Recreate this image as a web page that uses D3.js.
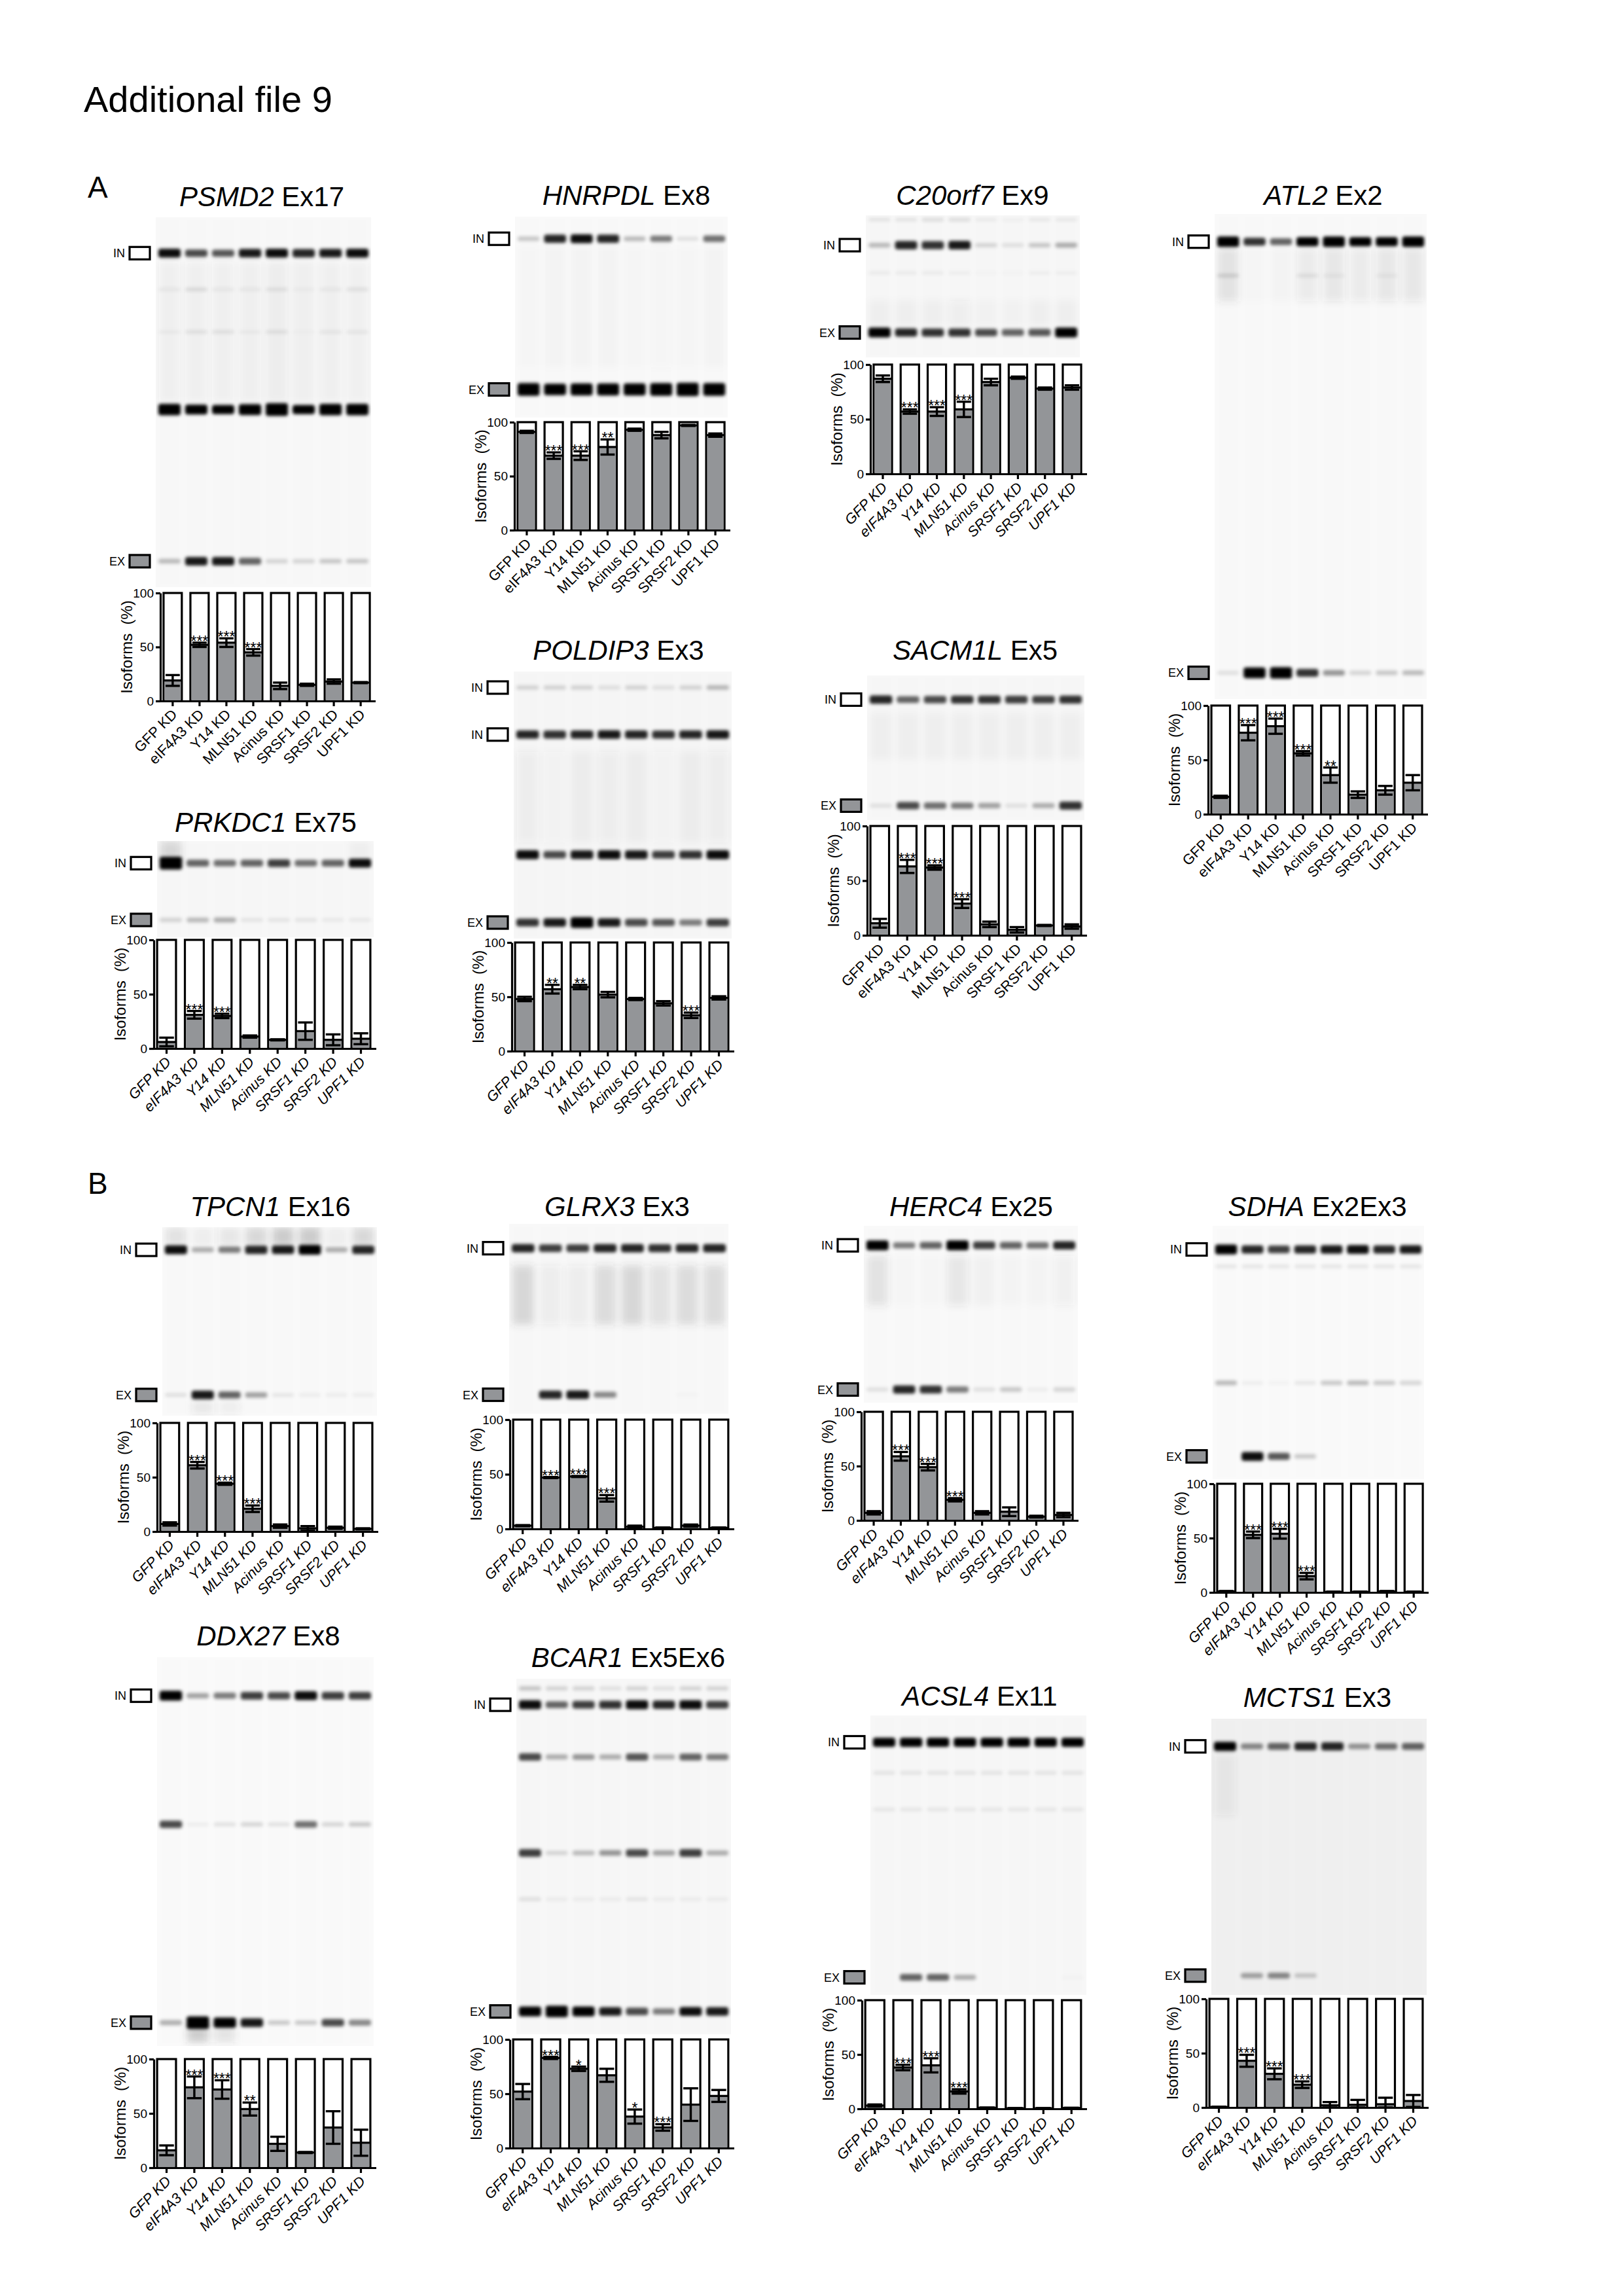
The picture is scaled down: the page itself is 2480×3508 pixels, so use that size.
<!DOCTYPE html>
<html><head><meta charset="utf-8">
<script src="https://cdn.jsdelivr.net/npm/d3@7"></script>
<style>
html,body{margin:0;padding:0;background:#fff;}
svg{display:block;font-family:"Liberation Sans",Arial,Helvetica,sans-serif;}
</style></head><body>
<svg id="fig" width="2480" height="3508"></svg>
<script>
// ---------------- DATA ----------------
const lanes = ["GFP KD","eIF4A3 KD","Y14 KD","MLN51 KD","Acinus KD","SRSF1 KD","SRSF2 KD","UPF1 KD"];
const yTicks = [0, 50, 100];

// Exon-included isoform percentage (mean, error, significance)
const psmd2Mean = [19,52,54,45,14,15,18,17];
const psmd2Err  = [5,2,4,3,3,1,2,0.5];
const psmd2Sig  = ["","***","***","***","","","",""];
const hnrpdlMean = [91,69,69,77,93,88,97,88];
const hnrpdlErr  = [1,3,4,7,1,3,0.5,1.5];
const hnrpdlSig  = ["","***","***","**","","","",""];
const c20orf7Mean = [87,57,57,59,84,88,78,79];
const c20orf7Err  = [3,2,4,7,3,1,1,2];
const c20orf7Sig  = ["","***","***","***","","","",""];
const atl2Mean = [16,75,81,56,36,18,22,29];
const atl2Err  = [1,7,7,2,7,3,4,7];
const atl2Sig  = ["","***","***","***","**","","",""];
const prkdc1Mean = [6,31,30,11,8,16,8,9];
const prkdc1Err  = [4,3.5,2,1,0.5,8,5,5];
const prkdc1Sig  = ["","***","***","","","","",""];
const poldip3Mean = [48,57,59,52,48,44,33,49];
const poldip3Err  = [2,4,2,2.5,1,2,2.5,1.5];
const poldip3Sig  = ["","**","**","","","","***",""];
const sacm1lMean = [11,63,62,29,10,5,9,8];
const sacm1lErr  = [4,6,2,4,2.5,2.5,0.5,2];
const sacm1lSig  = ["","***","***","***","","","",""];
const tpcn1Mean = [7,61,44,21,5,3,3.5,2.5];
const tpcn1Err  = [1.5,3,1,3,1.5,2,1,0.5];
const tpcn1Sig  = ["","***","***","***","","","",""];
const glrx3Mean = [3,47,48,28,2,1,3,1];
const glrx3Err  = [0.5,0.5,0.5,3,1,0.3,1,0.3];
const glrx3Sig  = ["","***","***","***","","","",""];
const herc4Mean = [7,59,49,19,7,8,3.5,5];
const herc4Err  = [1.5,4,3,1.5,1.5,4,0.8,2];
const herc4Sig  = ["","***","***","***","","","",""];
const sdhaMean = [1,53,54,15,0.5,0.5,1,0.5];
const sdhaErr  = [0.3,3,4.5,3,0.2,0.2,0.3,0.2];
const sdhaSig  = ["","***","***","***","","","",""];
const ddx27Mean = [16,74,72,54,22,14,37,23];
const ddx27Err  = [4.5,10,8.5,6,6.5,0.5,15,12];
const ddx27Sig  = ["","***","***","**","","","",""];
const bcar1Mean = [52,83,73,67,29,19,40,48];
const bcar1Err  = [7,1,2,6,6.5,3,15,5.5];
const bcar1Sig  = ["","***","*","","*","***","",""];
const acsl4Mean = [3,38,40,16,1,0.5,0.5,0.8];
const acsl4Err  = [1,2.5,6.5,2,0.2,0.2,0.2,0.2];
const acsl4Sig  = ["","***","***","***","","","",""];
const mcts1Mean = [0.5,43,31,21,2,2.5,3,6];
const mcts1Err  = [0.2,5.5,5,3,3,4.5,6,5.5];
const mcts1Sig  = ["","***","***","***","","","",""];

// Gel bands: [relative migration 0..1, per-lane signal]
const psmd2Bands = [[0.097,[0.95,0.7,0.65,0.9,0.95,0.85,0.9,0.95]],[0.195,[0.05,0.1,0.05,0.05,0.08,0.03,0.05,0.08]],[0.31,[0.04,0.08,0.08,0.04,0.08,0.02,0.06,0.06]],[0.52,[1.4,1.1,1.0,1.3,1.6,1.0,1.4,1.4]],[0.93,[0.25,0.9,0.9,0.6,0.15,0.15,0.2,0.2]]];
const psmd2Smears = [[0.12,0.5,[0.08,0.08,0.08,0.08,0.1,0.05,0.08,0.07]]];
const hnrpdlBands = [[0.11,[0.2,0.85,0.95,0.85,0.25,0.5,0.1,0.55]],[0.86,[1.6,1.4,1.5,1.5,1.5,1.6,1.7,1.6]]];
const hnrpdlSmears = [[0.15,0.75,[0.02,0.03,0.03,0.03,0.02,0.04,0.02,0.03]]];
const c20orf7Bands = [[0.03,[0.08,0.08,0.1,0.1,0.05,0.03,0.06,0.06]],[0.21,[0.25,0.85,0.8,0.9,0.15,0.1,0.2,0.3]],[0.405,[0.05,0.05,0.05,0.04,0.02,0.02,0.04,0.04]],[0.825,[1.1,0.85,0.8,0.8,0.7,0.6,0.65,1.1]]];
const c20orf7Smears = [[0.6,0.78,[0.05,0.05,0.05,0.08,0.03,0.03,0.05,0.05]]];
const atl2Bands = [[0.057,[1.2,0.8,0.6,1.0,1.2,1.0,1.0,1.2]],[0.127,[0.12,0,0,0.08,0.05,0,0.05,0]],[0.946,[0.1,1.3,1.4,0.8,0.4,0.15,0.2,0.25]]];
const atl2Smears = [[0.07,0.18,[0.2,0.02,0.03,0.12,0.15,0.12,0.15,0.15]]];
const prkdc1Bands = [[0.23,[1.6,0.6,0.55,0.6,0.75,0.55,0.6,0.95]],[0.82,[0.15,0.25,0.3,0.08,0.08,0.08,0.06,0.06]]];
const prkdc1Smears = [[0.0,0.2,[0.3,0,0,0,0,0,0,0.05]]];
const poldip3Bands = [[0.06,[0.15,0.15,0.15,0.1,0.15,0.1,0.15,0.25]],[0.236,[0.85,0.8,0.85,0.9,0.85,0.8,0.85,0.9]],[0.686,[0.95,0.7,0.9,0.95,0.9,0.75,0.8,0.95]],[0.94,[0.8,0.9,1.3,0.9,0.7,0.65,0.5,0.75]]];
const poldip3Smears = [[0.3,0.64,[0.08,0.04,0.06,0.08,0.06,0.04,0.06,0.08]]];
const sacm1lBands = [[0.167,[0.85,0.6,0.7,0.8,0.8,0.75,0.75,0.8]],[0.9,[0.1,0.7,0.55,0.5,0.35,0.1,0.3,0.8]]];
const sacm1lSmears = [[0.26,0.58,[0.05,0.05,0.05,0.05,0.05,0.05,0.05,0.05]]];
const tpcn1Bands = [[0.12,[0.95,0.3,0.5,0.85,0.9,1.1,0.3,0.85]],[0.89,[0.1,0.9,0.6,0.35,0.08,0.05,0.05,0.05]]];
const tpcn1Smears = [[0.0,0.1,[0.2,0.1,0.15,0.3,0.4,0.4,0.1,0.3]],[0.92,0.99,[0,0.15,0.1,0,0,0,0,0]]];
const glrx3Bands = [[0.128,[0.85,0.75,0.75,0.85,0.85,0.8,0.85,0.85]],[0.9,[0,0.85,0.9,0.45,0,0,0.02,0]]];
const glrx3Smears = [[0.22,0.53,[0.3,0.1,0.1,0.25,0.3,0.2,0.25,0.25]]];
const herc4Bands = [[0.11,[1.1,0.5,0.6,1.1,0.75,0.6,0.55,0.85]],[0.926,[0.1,0.85,0.8,0.5,0.1,0.2,0.05,0.15]]];
const herc4Smears = [[0.17,0.45,[0.2,0.02,0.02,0.15,0.05,0.03,0.03,0.08]]];
const sdhaBands = [[0.093,[1.1,0.85,0.75,0.85,0.9,0.95,0.85,0.9]],[0.16,[0.08,0.08,0.08,0.08,0.08,0.08,0.08,0.08]],[0.62,[0.25,0.05,0.03,0.08,0.2,0.25,0.2,0.15]],[0.91,[0,0.95,0.65,0.2,0,0,0,0]]];
const sdhaSmears = [];
const ddx27Bands = [[0.099,[1.1,0.35,0.5,0.75,0.7,0.95,0.75,0.75]],[0.43,[0.7,0.05,0.1,0.15,0.1,0.55,0.15,0.2]],[0.94,[0.3,1.6,1.2,0.9,0.2,0.2,0.7,0.45]]];
const ddx27Smears = [[0.95,0.99,[0,0.4,0.2,0,0,0,0,0]]];
const bcar1Bands = [[0.027,[0.2,0.15,0.15,0.1,0.15,0.1,0.15,0.15]],[0.073,[0.95,0.6,0.75,0.8,0.95,0.85,0.95,0.75]],[0.22,[0.7,0.3,0.4,0.3,0.65,0.3,0.6,0.5]],[0.49,[0.75,0.15,0.25,0.4,0.7,0.35,0.75,0.3]],[0.62,[0.1,0.05,0.05,0.05,0.08,0.05,0.05,0.05]],[0.936,[1.1,1.4,1.1,0.9,0.7,0.5,0.95,0.9]]];
const bcar1Smears = [];
const acsl4Bands = [[0.096,[1,1,1,1,1,1,1,1]],[0.205,[0.08,0.08,0.08,0.08,0.08,0.08,0.08,0.08]],[0.336,[0.07,0.07,0.07,0.07,0.07,0.07,0.07,0.07]],[0.937,[0,0.6,0.6,0.3,0,0,0,0.02]]];
const acsl4Smears = [];
const mcts1Bands = [[0.1,[1.0,0.45,0.6,0.85,0.85,0.4,0.55,0.6]],[0.93,[0,0.35,0.45,0.2,0,0,0,0]]];
const mcts1Smears = [[0.13,0.35,[0.1,0,0,0,0,0,0,0]]];

// ---------------- LAYOUT ----------------
const panels = [
 {gene:"PSMD2", exon:"Ex17", it:false, mean:psmd2Mean, err:psmd2Err, sig:psmd2Sig, bands:psmd2Bands, smears:psmd2Smears, marks:[["IN",0.097],["EX",0.93]], title:[400,315], gel:[238,567,332,897], chart:[245,570,906,1071], tone:"#f9f9f9"},
 {gene:"HNRPDL", exon:"Ex8", it:false, mean:hnrpdlMean, err:hnrpdlErr, sig:hnrpdlSig, bands:hnrpdlBands, smears:hnrpdlSmears, marks:[["IN",0.11],["EX",0.86]], title:[957,313], gel:[787,1112,331,638], chart:[786,1112,645,810], tone:"#fafafa"},
 {gene:"C20orf7", exon:"Ex9", it:true, mean:c20orf7Mean, err:c20orf7Err, sig:c20orf7Sig, bands:c20orf7Bands, smears:c20orf7Smears, marks:[["IN",0.21],["EX",0.825]], title:[1486,313], gel:[1323,1650,329,546], chart:[1330,1657,557,724], tone:"#f8f8f8"},
 {gene:"ATL2", exon:"Ex2", it:false, mean:atl2Mean, err:atl2Err, sig:atl2Sig, bands:atl2Bands, smears:atl2Smears, marks:[["IN",0.057],["EX",0.946]], title:[2022,313], gel:[1856,2180,327,1068], chart:[1846,2178,1078,1244], tone:"#fafafa"},
 {gene:"PRKDC1", exon:"Ex75", it:true, mean:prkdc1Mean, err:prkdc1Err, sig:prkdc1Sig, bands:prkdc1Bands, smears:prkdc1Smears, marks:[["IN",0.23],["EX",0.82]], title:[406,1271], gel:[240,571,1285,1432], chart:[235,571,1436,1602], tone:"#f8f8f8"},
 {gene:"POLDIP3", exon:"Ex3", it:true, mean:poldip3Mean, err:poldip3Err, sig:poldip3Sig, bands:poldip3Bands, smears:poldip3Smears, marks:[["IN",0.06],["IN",0.236],["EX",0.94]], title:[945,1008], gel:[785,1118,1026,1434], chart:[782,1118,1440,1606], tone:"#f7f7f7"},
 {gene:"SACM1L", exon:"Ex5", it:false, mean:sacm1lMean, err:sacm1lErr, sig:sacm1lSig, bands:sacm1lBands, smears:sacm1lSmears, marks:[["IN",0.167],["EX",0.9]], title:[1490,1008], gel:[1325,1657,1032,1253], chart:[1325,1657,1262,1429], tone:"#f8f8f8"},
 {gene:"TPCN1", exon:"Ex16", it:true, mean:tpcn1Mean, err:tpcn1Err, sig:tpcn1Sig, bands:tpcn1Bands, smears:tpcn1Smears, marks:[["IN",0.12],["EX",0.89]], title:[413,1858], gel:[248,576,1875,2163], chart:[240,574,2174,2340], tone:"#fafafa"},
 {gene:"GLRX3", exon:"Ex3", it:true, mean:glrx3Mean, err:glrx3Err, sig:glrx3Sig, bands:glrx3Bands, smears:glrx3Smears, marks:[["IN",0.128],["EX",0.9]], title:[943,1858], gel:[778,1113,1870,2160], chart:[779,1118,2169,2336], tone:"#f9f9f9"},
 {gene:"HERC4", exon:"Ex25", it:true, mean:herc4Mean, err:herc4Err, sig:herc4Sig, bands:herc4Bands, smears:herc4Smears, marks:[["IN",0.11],["EX",0.926]], title:[1484,1858], gel:[1320,1647,1873,2143], chart:[1316,1644,2157,2323], tone:"#fafafa"},
 {gene:"SDHA", exon:"Ex2Ex3", it:true, mean:sdhaMean, err:sdhaErr, sig:sdhaSig, bands:sdhaBands, smears:sdhaSmears, marks:[["IN",0.093],["EX",0.91]], title:[2013,1858], gel:[1853,2176,1873,2260], chart:[1855,2179,2267,2433], tone:"#fbfbfb"},
 {gene:"DDX27", exon:"Ex8", it:true, mean:ddx27Mean, err:ddx27Err, sig:ddx27Sig, bands:ddx27Bands, smears:ddx27Smears, marks:[["IN",0.099],["EX",0.94]], title:[410,2514], gel:[240,571,2532,3126], chart:[235,571,3146,3312], tone:"#fbfbfb"},
 {gene:"BCAR1", exon:"Ex5Ex6", it:true, mean:bcar1Mean, err:bcar1Err, sig:bcar1Sig, bands:bcar1Bands, smears:bcar1Smears, marks:[["IN",0.073],["EX",0.936]], title:[960,2547], gel:[789,1117,2565,3108], chart:[779,1118,3116,3282], tone:"#f8f8f8"},
 {gene:"ACSL4", exon:"Ex11", it:true, mean:acsl4Mean, err:acsl4Err, sig:acsl4Sig, bands:acsl4Bands, smears:acsl4Smears, marks:[["IN",0.096],["EX",0.937]], title:[1497,2606], gel:[1330,1660,2621,3048], chart:[1317,1657,3056,3222], tone:"#f8f8f8"},
 {gene:"MCTS1", exon:"Ex3", it:true, mean:mcts1Mean, err:mcts1Err, sig:mcts1Sig, bands:mcts1Bands, smears:mcts1Smears, marks:[["IN",0.1],["EX",0.93]], title:[2013,2608], gel:[1851,2180,2626,3048], chart:[1843,2179,3054,3220], tone:"#f1f1f1"}
];

const GRAY = "#939598";
const svg = d3.select("#fig");
svg.append("rect").attr("width",2480).attr("height",3508).attr("fill","#fff");
const defs = svg.append("defs");
const fb = defs.append("filter").attr("id","blurBand").attr("x","-30%").attr("y","-150%").attr("width","160%").attr("height","400%");
fb.append("feGaussianBlur").attr("stdDeviation",2.8);
const fs = defs.append("filter").attr("id","blurSmear").attr("x","-30%").attr("y","-30%").attr("width","160%").attr("height","160%");
fs.append("feGaussianBlur").attr("stdDeviation",6);

svg.append("text").attr("x",128).attr("y",171).attr("font-size",56).text("Additional file 9");
svg.append("text").attr("x",134).attr("y",302).attr("font-size",46).text("A");
svg.append("text").attr("x",134).attr("y",1824).attr("font-size",46).text("B");

panels.forEach((p, pi) => {
  const g = svg.append("g");
  // title
  const t = g.append("text").attr("x",p.title[0]).attr("y",p.title[1]).attr("text-anchor","middle").attr("font-size",42);
  t.append("tspan").attr("font-style","italic").text(p.gene);
  t.append("tspan").text(" " + p.exon);

  // gel
  const [gx0,gx1,gy0,gy1] = p.gel;
  const laneX = d3.scaleBand().domain(lanes).range([gx0,gx1]).paddingInner(0.12).paddingOuter(0.07);
  const mig = d3.scaleLinear().domain([0,1]).range([gy0,gy1]);
  const cid = "gelclip" + pi;
  defs.append("clipPath").attr("id",cid).append("rect").attr("x",gx0).attr("y",gy0).attr("width",gx1-gx0).attr("height",gy1-gy0);
  const gel = g.append("g").attr("clip-path",`url(#${cid})`);
  gel.append("rect").attr("x",gx0).attr("y",gy0).attr("width",gx1-gx0).attr("height",gy1-gy0).attr("fill",p.tone);
  gel.append("g").attr("filter","url(#blurSmear)").selectAll("rect.lane").data(lanes).join("rect").attr("class","lane")
    .attr("x",d=>laneX(d)).attr("width",laneX.bandwidth()).attr("y",gy0).attr("height",gy1-gy0)
    .attr("fill","#000").attr("opacity",0.008);
  p.smears.forEach(([f0,f1,vals]) => {
    gel.append("g").attr("filter","url(#blurSmear)").selectAll("rect")
      .data(vals.map((v,i)=>({v,l:lanes[i]})).filter(d=>d.v>0)).join("rect")
      .attr("x",d=>laneX(d.l)+2).attr("width",laneX.bandwidth()-4)
      .attr("y",mig(f0)).attr("height",mig(f1)-mig(f0))
      .attr("fill","#444").attr("opacity",d=>d.v*0.6);
  });
  p.bands.forEach(([f,vals]) => {
    gel.append("g").attr("filter","url(#blurBand)").selectAll("rect")
      .data(vals.map((v,i)=>({v,l:lanes[i]})).filter(d=>d.v>0.005)).join("rect")
      .attr("x",d=>laneX(d.l)+1).attr("width",laneX.bandwidth()-2)
      .attr("y",d=>mig(f)-(5+9*d.v)/2).attr("height",d=>5+9*d.v)
      .attr("rx",4)
      .attr("fill","#000").attr("opacity",d=>Math.min(1,d.v));
  });
  // IN / EX markers
  p.marks.forEach(([lab,f]) => {
    const y = mig(f);
    g.append("rect").attr("x",gx0-40).attr("y",y-9.5).attr("width",31).attr("height",19)
      .attr("fill",lab==="IN"?"#fff":GRAY).attr("stroke","#000").attr("stroke-width",3.2);
    g.append("text").attr("x",gx0-47).attr("y",y+6.5).attr("text-anchor","end").attr("font-size",18).text(lab);
  });

  // bar chart
  const [cx0,cx1,cyT,cyB] = p.chart;
  const x = d3.scaleBand().domain(lanes).range([cx0,cx1]).paddingInner(0.32).paddingOuter(0.12);
  const y = d3.scaleLinear().domain([0,100]).range([cyB,cyT]);
  const data = lanes.map((l,i)=>({l, m:p.mean[i], e:p.err[i], s:p.sig[i]}));
  const bw = x.bandwidth();
  const bars = g.append("g");
  bars.selectAll("rect.tot").data(data).join("rect").attr("class","tot")
    .attr("x",d=>x(d.l)).attr("y",y(100)).attr("width",bw).attr("height",y(0)-y(100))
    .attr("fill","#fff").attr("stroke","#000").attr("stroke-width",3.2);
  bars.selectAll("rect.ex").data(data).join("rect").attr("class","ex")
    .attr("x",d=>x(d.l)+1.6).attr("y",d=>y(d.m)).attr("width",bw-3.2).attr("height",d=>y(0)-y(d.m))
    .attr("fill",GRAY);
  bars.selectAll("line.mean").data(data).join("line").attr("class","mean")
    .attr("x1",d=>x(d.l)).attr("x2",d=>x(d.l)+bw).attr("y1",d=>y(d.m)).attr("y2",d=>y(d.m))
    .attr("stroke","#000").attr("stroke-width",3.2);
  const cap = bw*0.78;
  const eb = bars.selectAll("g.err").data(data).join("g").attr("class","err")
    .attr("stroke","#000").attr("stroke-width",3.4);
  eb.append("line").attr("x1",d=>x(d.l)+bw/2).attr("x2",d=>x(d.l)+bw/2)
    .attr("y1",d=>y(Math.min(100,d.m+d.e))).attr("y2",d=>y(Math.max(0,d.m-d.e)));
  eb.append("line").attr("x1",d=>x(d.l)+bw/2-cap/2).attr("x2",d=>x(d.l)+bw/2+cap/2)
    .attr("y1",d=>y(Math.min(100,d.m+d.e))).attr("y2",d=>y(Math.min(100,d.m+d.e)));
  eb.append("line").attr("x1",d=>x(d.l)+bw/2-cap/2).attr("x2",d=>x(d.l)+bw/2+cap/2)
    .attr("y1",d=>y(Math.max(0,d.m-d.e))).attr("y2",d=>y(Math.max(0,d.m-d.e)));
  bars.selectAll("text.sig").data(data.filter(d=>d.s)).join("text").attr("class","sig")
    .attr("x",d=>x(d.l)+bw/2).attr("y",d=>y(d.m+d.e)+6).attr("text-anchor","middle")
    .attr("font-size",23).text(d=>d.s);

  // axes
  const ya = g.append("g").attr("transform",`translate(${cx0},0)`)
    .call(d3.axisLeft(y).tickValues(yTicks).tickSize(7).tickSizeOuter(0).tickPadding(3));
  ya.selectAll("path,line").attr("stroke","#000").attr("stroke-width",3.2);
  ya.selectAll("text").attr("font-size",19).attr("font-family",null);
  const xa = g.append("g").attr("transform",`translate(0,${cyB})`)
    .call(d3.axisBottom(x).tickSize(8).tickSizeOuter(0).tickFormat(""));
  xa.selectAll("path,line").attr("stroke","#000").attr("stroke-width",3.2);
  xa.select("path.domain").attr("d",`M${cx0},0.5H${cx1+4}`);
  g.append("text").attr("transform",`translate(${cx0-43},${(cyT+cyB)/2}) rotate(-90)`)
    .attr("text-anchor","middle").attr("font-size",24).style("white-space","pre").text("Isoforms  (%)");
  g.selectAll("text.xl").data(lanes).join("text").attr("class","xl")
    .attr("transform",d=>`translate(${x(d)+bw/2+8},${cyB+22}) rotate(-45)`)
    .attr("text-anchor","end").attr("font-size",22).attr("font-style",p.it?"italic":"normal").text(d=>d);
});
</script>
</body></html>
